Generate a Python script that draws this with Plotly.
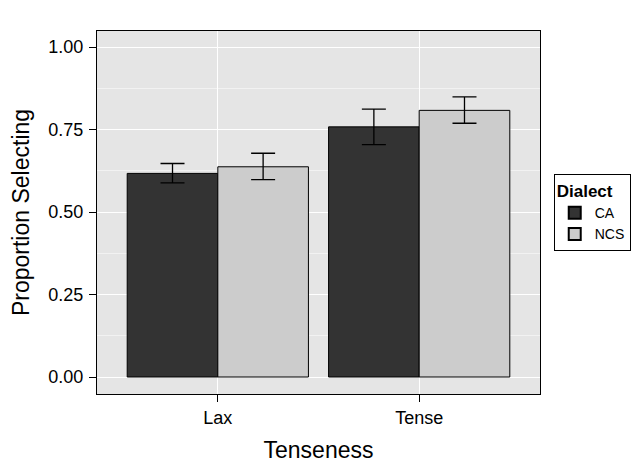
import plotly.graph_objects as go

categories = ["Lax", "Tense"]
dialects = ["CA", "NCS"]
ca_values = [0.617, 0.758]
ncs_values = [0.637, 0.808]
ca_upper = [0.647, 0.812]
ca_lower = [0.588, 0.704]
ncs_upper = [0.678, 0.849]
ncs_lower = [0.598, 0.769]
y_ticks = [0.0, 0.25, 0.5, 0.75, 1.0]
y_tick_labels = ["0.00", "0.25", "0.50", "0.75", "1.00"]

colors = {"CA": "#333333", "NCS": "#CCCCCC"}
vals = {"CA": ca_values, "NCS": ncs_values}
ups = {"CA": ca_upper, "NCS": ncs_upper}
los = {"CA": ca_lower, "NCS": ncs_lower}

fig = go.Figure()
for d in dialects:
    v = vals[d]
    fig.add_trace(go.Bar(
        x=categories, y=v, name=d,
        marker=dict(color=colors[d], line=dict(color="black", width=1)),
        error_y=dict(type="data", symmetric=False,
                     array=[u - m for u, m in zip(ups[d], v)],
                     arrayminus=[m - l for l, m in zip(los[d], v)],
                     color="black", thickness=1.3, width=12),
    ))

fig.update_layout(
    width=632, height=463,
    margin=dict(l=97, r=92, t=31, b=69, autoexpand=False),
    paper_bgcolor="white", plot_bgcolor="#E5E5E5",
    barmode="group", bargap=0.1, bargroupgap=0,
    font=dict(family="Liberation Sans, Arial, sans-serif", color="black"),
    showlegend=True,
    legend=dict(
        title=dict(text="<b>Dialect</b>", font=dict(size=17)),
        x=1.031, y=0.5, xanchor="left", yanchor="middle",
        bordercolor="black", borderwidth=1, bgcolor="white",
        font=dict(size=14), itemsizing="constant",
        tracegroupgap=0, itemwidth=30,
    ),
)
fig.update_xaxes(
    type="category", range=[-0.6, 1.6],
    showgrid=True, gridcolor="white", gridwidth=1.2,
    showline=True, linecolor="black", linewidth=1, mirror=True,
    ticks="outside", tickcolor="black", ticklen=7, tickwidth=1,
    tickfont=dict(size=18, color="black"),
    title=dict(text="Tenseness", font=dict(size=23), standoff=15),
    zeroline=False, automargin=False,
)
fig.update_yaxes(
    range=[-0.0515, 1.0485],
    tickvals=y_ticks, ticktext=y_tick_labels,
    showgrid=True, gridcolor="white", gridwidth=1.3,
    minor=dict(tickvals=[0.125, 0.375, 0.625, 0.875], showgrid=True, gridcolor="#F2F2F2", gridwidth=0.8, ticks=""),
    showline=True, linecolor="black", linewidth=1, mirror=True,
    ticks="outside", tickcolor="black", ticklen=7, tickwidth=1,
    ticklabelstandoff=2,
    tickfont=dict(size=18, color="black"),
    title=dict(text="Proportion Selecting", font=dict(size=23), standoff=12),
    zeroline=False, automargin=False,
)

fig.write_html("out.html", config={"displayModeBar": False},
               post_script="document.body.style.margin='0';")
